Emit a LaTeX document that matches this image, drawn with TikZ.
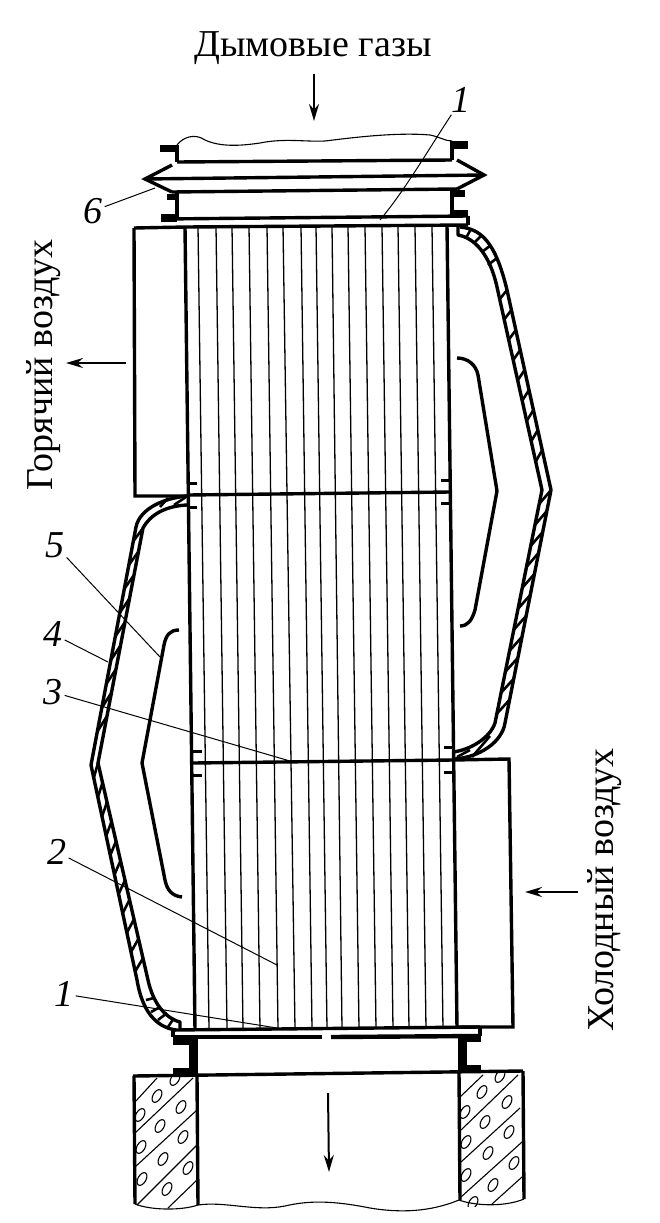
\documentclass[tikz,border=0pt]{standalone}
\usepackage{fontspec}
\setmainfont{Liberation Serif}
\usetikzlibrary{positioning,calc,arrows.meta}

\tikzset{
	wall/.style={black, line width=3.4pt},
	heavy/.style={black, line width=4.4pt},
	tube/.style={black, line width=1.3pt},
	shell/.style={black, line width=3.4pt, line join=round},
	hatch/.style={black, line width=2.6pt},
	leader/.style={black, line width=1pt},
	thin line/.style={black, line width=1.1pt},
	flow/.style={black, line width=2pt, -{Stealth[length=17pt,width=10pt]}},
	numlabel/.style={font=\itshape\fontsize{38}{38}\selectfont, inner sep=2pt},
	caption/.style={font=\fontsize{38}{38}\selectfont, inner sep=0pt}
}

\begin{document}
\begin{tikzpicture}[x=1pt,y=-1pt]

	\useasboundingbox (0,0) rectangle (660,1223);

	% captions and flow arrows
	\node[caption] (gas) at (313,48) {Дымовые газы};
	\node[caption, rotate=90] (hot) at (44,365) {Горячий воздух};
	\node[caption, rotate=90] (cold) at (605,890) {Холодный воздух};

	\draw[flow] (314,74) -- (314,121);
	\draw[flow] (126,363) -- (66,363);
	\draw[flow] (578,892) -- (525,892);
	\draw[flow] (328,1093) -- (329,1172);

	% top duct and bellows
	\draw[thin line] (177,145) .. controls (183,137) and (195,133) .. (205,140) .. controls (220,147) and (240,146) .. (260,143) .. controls (285,138) and (305,142) .. (325,141) .. controls (350,138) and (395,132) .. (430,135) .. controls (440,137) and (445,141) .. (452,141);
	\draw[heavy] (177,145) -- (177,162);
	\draw[heavy] (452,141) -- (452,160);
	\fill (160,145) rectangle (177,152);
	\fill (452,141) rectangle (468,149);
	\draw[wall] (177,162) -- (452,160);
	\draw[wall, line join=miter] (172,165) -- (145,179) -- (172,192);
	\draw[wall, line join=miter] (457,160) -- (484,175) -- (457,189);
	\draw[wall] (145,179) -- (484,175);
	\draw[wall] (172,192) -- (457,189);
	\draw[heavy] (177,192) -- (177,218);
	\draw[heavy] (452,189) -- (452,217);
	\fill (167,194) rectangle (177,200);
	\fill (161,214) rectangle (177,222);
	\fill (452,190) rectangle (465,197);
	\fill (452,210) rectangle (468,217);

	% tube plate, top
	\draw[wall] (163,219) -- (468,216);
	\draw[wall] (134,228) -- (186,227) -- (468,225);
	\draw[wall] (468,216) -- (468,225);

	% tubes
	\foreach \xtop/\xbot in {198/209,216/227,232/243,249/260,267/278,283/295,301/312,316/327,332/342,348/359,365/376,382/393,398/409,415/426,432/443} {
		\draw[tube] (\xtop,226) -- (\xbot,1029);
	}

	% walls of the block
	\draw[wall] (185,227) -- (195,1030);
	\draw[wall] (447,225) -- (457,1028);

	% air boxes
	\draw[wall] (134,228) -- (135,496) -- (188,496);
	\draw[wall] (188,495) -- (450,492);
	\draw[wall] (193,763) -- (453,760) -- (509,759) -- (513,1027) -- (457,1027);

	% ticks beside the plates
	\foreach \tx/\ty in {188/483,188/507,193/751,193/775} {
		\draw[wall, line width=3pt] (\tx,\ty) -- (\tx+9,\ty);
	}
	\foreach \tx/\ty in {450/480,450/503,453/747,453/772} {
		\draw[wall, line width=3pt] (\tx,\ty) -- (\tx-9,\ty);
	}

	% right shell
	\coordinate (ro1) at (507,290);
	\coordinate (ro2) at (551,490);
	\coordinate (ro3) at (505,723);
	\coordinate (ri1) at (497,287);
	\coordinate (ri2) at (542,490);
	\coordinate (ri3) at (495,723);
	\draw[shell] (460,227) .. controls (480,229) and (495,240) .. (ro1) -- (ro2) -- (ro3) .. controls (502,742) and (480,757) .. (455,759);
	\draw[shell] (458,227) -- (458,235) .. controls (475,238) and (490,255) .. (ri1) -- (ri2) -- (ri3) .. controls (490,738) and (470,750) .. (453,752);
	\foreach \t in {0,0.1,...,0.9} {
		\draw[hatch] ($(ri1)!\t+0.06!(ri2)$) -- ($(ro1)!\t!(ro2)$);
	}
	\foreach \t in {0,0.09,...,0.9} {
		\draw[hatch] ($(ri2)!\t+0.06!(ri3)$) -- ($(ro2)!\t!(ro3)$);
	}
	\draw[hatch] (466,238) -- (471,229);
	\draw[hatch] (474,243) -- (482,235);
	\draw[hatch] (482,252) -- (491,245);
	\draw[hatch] (488,265) -- (497,258);
	\draw[hatch] (457,757) -- (470,750);
	\draw[hatch] (472,757) -- (490,736);

	% left shell
	\coordinate (lo1) at (136,527);
	\coordinate (lo2) at (91,765);
	\coordinate (lo3) at (137,980);
	\coordinate (li1) at (143,528);
	\coordinate (li2) at (98,763);
	\coordinate (li3) at (148,980);
	\draw[shell] (187,496) .. controls (165,498) and (140,508) .. (lo1) -- (lo2) -- (lo3) .. controls (142,1010) and (155,1027) .. (176,1030);
	\draw[shell] (187,505) .. controls (165,506) and (150,515) .. (li1) -- (li2) -- (li3) .. controls (153,1003) and (165,1018) .. (180,1022) -- (180,1029);
	\foreach \t in {0,0.1,...,0.9} {
		\draw[hatch] ($(lo1)!\t+0.06!(lo2)$) -- ($(li1)!\t!(li2)$);
	}
	\foreach \t in {0,0.09,...,0.9} {
		\draw[hatch] ($(lo2)!\t+0.06!(lo3)$) -- ($(li2)!\t!(li3)$);
	}
	\draw[hatch] (160,507) -- (168,498);
	\draw[hatch] (174,505) -- (186,497);
	\draw[hatch] (146,1000) -- (154,998);
	\draw[hatch] (151,1012) -- (160,1007);
	\draw[hatch] (158,1020) -- (167,1013);
	\draw[hatch] (168,1027) -- (174,1018);

	% baffles
	\draw[wall] (457,358) .. controls (468,358) and (476,365) .. (478,375) -- (497,491) -- (475,610) .. controls (472,620) and (468,626) .. (460,626);
	\draw[wall] (179,630) .. controls (170,630) and (166,635) .. (164,645) -- (142,763) -- (165,880) .. controls (167,890) and (172,896) .. (182,897);

	% tube plate, bottom
	\draw[wall] (173,1030) -- (480,1027);
	\draw[wall] (173,1030) -- (173,1037);
	\draw[wall] (480,1027) -- (480,1036);
	\draw[heavy] (173,1037) -- (322,1037);
	\draw[heavy] (331,1037) -- (480,1036);

	% lower duct
	\draw[heavy, line width=9pt] (193,1037) -- (193,1074);
	\draw[heavy, line width=9pt] (462,1036) -- (462,1072);
	\fill (173,1037) rectangle (193,1045);
	\fill (462,1036) rectangle (481,1042);
	\fill (173,1068) rectangle (197,1076);
	\fill (462,1065) rectangle (481,1072);

	% foundation
	\draw[wall] (133,1076) -- (523,1071);
	\draw[wall] (134,1076) -- (135,1204);
	\draw[wall] (197,1076) -- (198,1205);
	\draw[wall] (459,1072) -- (460,1200);
	\draw[wall] (523,1071) -- (524,1199);
	\draw[thin line] (135,1204) .. controls (150,1210) and (180,1211) .. (198,1205) .. controls (225,1201) and (255,1212) .. (285,1206) .. controls (310,1200) and (335,1201) .. (370,1208) .. controls (400,1213) and (430,1212) .. (459,1200) .. controls (475,1206) and (505,1207) .. (524,1199);

	% left block hatching
	\begin{scope}
		\clip (135,1076) rectangle (197,1209);
		\draw[thin line] (135,1102) -- (157,1078);
		\draw[thin line] (135,1133) -- (193,1078);
		\draw[thin line] (135,1167) -- (197,1110);
		\draw[thin line] (137,1205) -- (197,1145);
		\draw[thin line] (168,1208) -- (197,1180);
		\foreach \ex/\ey in {157/1096,181/1107,160/1126,183/1137,163/1159,188/1168,167/1189,140/1115,141/1147,142/1179,175/1079} {
			\draw[thin line] (\ex,\ey) ellipse[x radius=7pt, y radius=4pt, rotate=60];
		}
	\end{scope}

	% right block hatching
	\begin{scope}
		\clip (460,1072) rectangle (523,1206);
		\draw[thin line] (460,1097) -- (483,1075);
		\draw[thin line] (461,1130) -- (518,1075);
		\draw[thin line] (461,1162) -- (520,1108);
		\draw[thin line] (461,1197) -- (522,1142);
		\draw[thin line] (492,1204) -- (522,1177);
		\foreach \ex/\ey in {482/1092,507/1102,485/1122,509/1132,488/1153,514/1163,493/1185,465/1112,466/1142,466/1175,500/1076,473/1203} {
			\draw[thin line] (\ex,\ey) ellipse[x radius=7pt, y radius=4pt, rotate=60];
		}
	\end{scope}

	% numbers and leaders
	\node[numlabel] (num1top) at (461,100) {1};
	\node[numlabel] (num6) at (93,211) {6};
	\node[numlabel] (num5) at (55,545) {5};
	\node[numlabel] (num4) at (53,634) {4};
	\node[numlabel] (num3) at (53,692) {3};
	\node[numlabel] (num2) at (57,852) {2};
	\node[numlabel] (num1bot) at (64,994) {1};

	\coordinate (end1top) at (380,220);
	\coordinate (end6) at (155,188);
	\coordinate (end5) at (160,657);
	\coordinate (end4) at (108,662);
	\coordinate (end3) at (290,761);
	\coordinate (end2) at (277,965);
	\coordinate (end1bot) at (277,1028);

	\draw[leader] (num1top) .. controls (425,155) and (405,190) .. (end1top);
	\draw[leader] (num6) -- (end6);
	\draw[leader] (num5) -- (end5);
	\draw[leader] (num4) -- (end4);
	\draw[leader] (num3) -- (end3);
	\draw[leader] (num2) -- (end2);
	\draw[leader] (num1bot) -- (end1bot);

\end{tikzpicture}
\end{document}
